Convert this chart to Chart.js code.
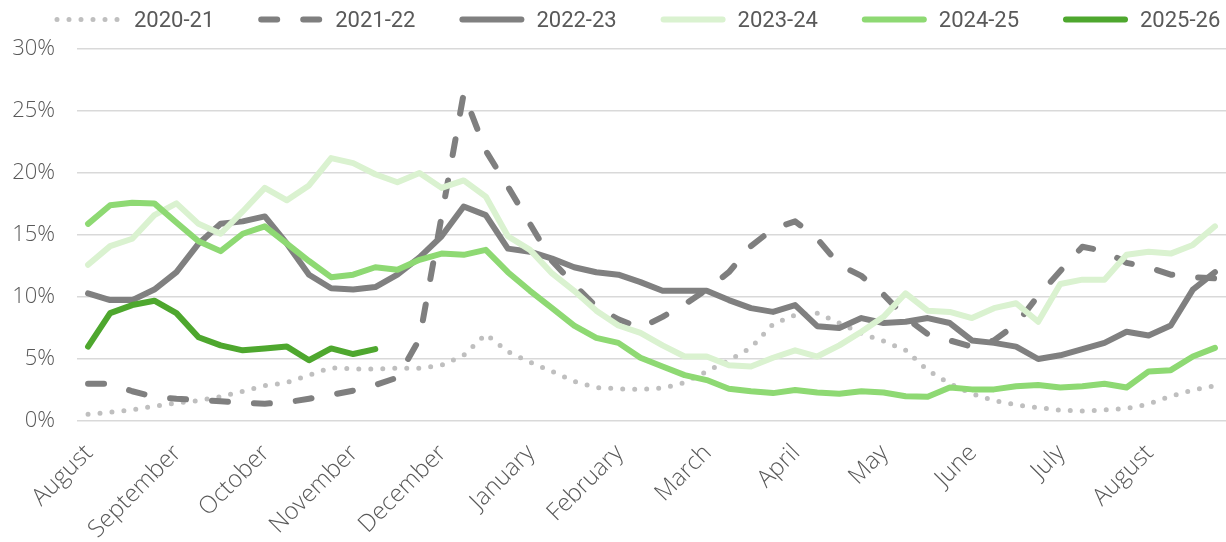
<!DOCTYPE html>
<html>
<head>
<meta charset="utf-8">
<script src="https://cdn.jsdelivr.net/npm/chart.js@4.4.1/dist/chart.umd.min.js"></script>
<style>
  html, body { margin: 0; padding: 0; background: #ffffff; }
  #wrap { width: 1226px; height: 542px; position: relative; }
</style>
</head>
<body>
<div id="wrap"><canvas id="chart"></canvas></div>
<script>
// Weekly categories (52 weeks, August to August); month name shown on the first week of each 4-week block
const categories = [
  'August','','','',
  'September','','','',
  'October','','','',
  'November','','','',
  'December','','','',
  'January','','','',
  'February','','','',
  'March','','','',
  'April','','','',
  'May','','','',
  'June','','','',
  'July','','','',
  'August','','',''
];

const seriesNames = ['2020-21', '2021-22', '2022-23', '2023-24', '2024-25', '2025-26'];

// Values in %
const s2020_21 = [0.55, 0.7, 0.9, 1.2, 1.45, 1.65, 1.95, 2.4, 2.85, 3.1, 3.7, 4.3, 4.2, 4.2, 4.25, 4.25,
  4.5, 5.3, 7.0, 5.6, 4.75, 4.0, 3.2, 2.7, 2.6, 2.55, 2.65, 3.1, 4.0, 4.9, 5.9, 7.8,
  8.55, 8.7, 7.9, 7.05, 6.45, 5.7, 4.1, 3.0, 2.2, 1.65, 1.3, 1.08, 0.87, 0.8, 0.9, 1.0,
  1.37, 2.0, 2.5, 2.85];
const s2021_22 = [3.0, 3.0, 2.4, 1.95, 1.8, 1.7, 1.6, 1.45, 1.4, 1.5, 1.8, 2.1, 2.45, 2.9, 3.5, 6.6,
  16.5, 26.4, 21.8, 18.9, 15.9, 12.9, 11.0, 9.2, 8.2, 7.5, 8.4, 9.4, 10.6, 12.0, 14.1, 15.5,
  16.1, 14.7, 12.6, 11.7, 10.2, 8.35, 7.0, 6.5, 6.0, 6.5, 7.8, 10.1, 12.1, 14.05, 13.7, 12.75,
  12.4, 11.8, 11.6, 11.5];
const s2022_23 = [10.3, 9.75, 9.75, 10.6, 12.0, 14.3, 15.9, 16.1, 16.5, 14.3, 11.8, 10.7, 10.6, 10.8, 11.8, 13.2,
  14.9, 17.3, 16.6, 13.9, 13.65, 13.1, 12.4, 12.0, 11.8, 11.2, 10.5, 10.5, 10.5, 9.75, 9.1, 8.8,
  9.35, 7.65, 7.5, 8.3, 7.9, 8.0, 8.3, 7.9, 6.5, 6.3, 6.0, 5.0, 5.3, 5.8, 6.3, 7.2,
  6.9, 7.7, 10.6, 12.0];
const s2023_24 = [12.6, 14.1, 14.7, 16.6, 17.55, 15.9, 15.1, 16.9, 18.8, 17.8, 19.0, 21.2, 20.8, 19.9, 19.25, 20.0,
  18.8, 19.4, 18.1, 14.9, 13.8, 11.9, 10.5, 8.9, 7.7, 7.1, 6.1, 5.2, 5.2, 4.5, 4.4, 5.1,
  5.7, 5.2, 6.1, 7.2, 8.4, 10.3, 8.9, 8.8, 8.3, 9.1, 9.5, 8.0, 11.05, 11.4, 11.4, 13.4,
  13.65, 13.5, 14.2, 15.7];
const s2024_25 = [15.9, 17.4, 17.6, 17.55, 16.0, 14.5, 13.7, 15.1, 15.7, 14.3, 12.9, 11.6, 11.8, 12.4, 12.2, 13.0,
  13.5, 13.4, 13.8, 12.0, 10.5, 9.1, 7.7, 6.7, 6.3, 5.1, 4.4, 3.7, 3.3, 2.6, 2.4, 2.25,
  2.5, 2.3, 2.2, 2.4, 2.3, 2.0, 1.95, 2.7, 2.55, 2.55, 2.8, 2.9, 2.7, 2.8, 3.0, 2.7,
  4.0, 4.1, 5.2, 5.9];
const s2025_26 = [6.0, 8.7, 9.35, 9.7, 8.7, 6.75, 6.1, 5.7, 5.85, 6.0, 4.9, 5.85, 5.4, 5.8];

const yTickValues = [0, 5, 10, 15, 20, 25, 30];

const seriesValues = [s2020_21, s2021_22, s2022_23, s2023_24, s2024_25, s2025_26];
const seriesStyle = [
  { color: '#BFBFBF', width: 5, dash: [0, 12], cap: 'round' },
  { color: '#7F7F7F', width: 6, dash: [16, 26], cap: 'round' },
  { color: '#808080', width: 6, dash: [], cap: 'round' },
  { color: '#DAF2D0', width: 6, dash: [], cap: 'round' },
  { color: '#8ED973', width: 6, dash: [], cap: 'round' },
  { color: '#4EA72E', width: 6, dash: [], cap: 'round' }
];

const datasets = seriesNames.map((name, i) => ({
  label: name,
  data: seriesValues[i],
  borderColor: seriesStyle[i].color,
  backgroundColor: seriesStyle[i].color,
  borderWidth: seriesStyle[i].width,
  borderDash: seriesStyle[i].dash,
  borderCapStyle: seriesStyle[i].cap,
  borderJoinStyle: 'round',
  pointRadius: 0,
  tension: 0,
  fill: false,
  order: seriesNames.length - 1 - i
}));

// Legend drawn in a single row with Excel-like spacing
const legendRow = {
  id: 'legendRow',
  afterDraw(chart) {
    const ctx = chart.ctx;
    const x0 = 57, pitch = 201.2, sampleW = 65, textDx = 77, lineY = 19.5, textY = 27;
    chart.data.datasets.forEach((ds, i) => {
      const x = x0 + i * pitch;
      ctx.save();
      ctx.strokeStyle = ds.borderColor;
      ctx.lineWidth = ds.borderWidth;
      ctx.lineCap = ds.borderCapStyle;
      ctx.setLineDash(ds.borderDash || []);
      const dotted = ds.borderDash && ds.borderDash.length && ds.borderDash[0] === 0;
      const inset = dotted ? 0 : ds.borderWidth / 2;
      ctx.beginPath();
      ctx.moveTo(x + inset, lineY);
      ctx.lineTo(x + sampleW - inset, lineY);
      ctx.stroke();
      ctx.restore();
      ctx.save();
      ctx.font = '22px Roboto';
      ctx.fillStyle = '#595959';
      ctx.textAlign = 'left';
      ctx.textBaseline = 'alphabetic';
      ctx.fillText(ds.label, x + textDx, textY);
      ctx.restore();
    });
  }
};

const yTickFont = { family: "'Open Sans'", size: 22, weight: 300 };
const xTickFont = { family: "'Open Sans'", size: 24, weight: 300 };

new Chart(document.getElementById('chart'), {
  type: 'line',
  data: { labels: categories, datasets },
  plugins: [legendRow],
  options: {
    animation: false,
    responsive: true,
    maintainAspectRatio: false,
    devicePixelRatio: 1,
    layout: { padding: { top: 49, left: 0, right: -2, bottom: 0 } },
    plugins: { legend: { display: false }, tooltip: { enabled: false } },
    scales: {
      x: {
        type: 'category',
        offset: true,
        grid: { display: false },
        border: { display: false },
        ticks: {
          autoSkip: false,
          maxRotation: 45,
          minRotation: 45,
          padding: 10,
          labelOffset: 1,
          color: '#595959',
          font: xTickFont
        },
        afterFit(scale) { scale.height = 121; scale.paddingLeft = 0; scale.paddingRight = 0; }
      },
      y: {
        min: yTickValues[0],
        max: yTickValues[yTickValues.length - 1],
        grid: { color: '#D9D9D9', lineWidth: 1.5, drawTicks: false },
        border: { display: false },
        ticks: {
          stepSize: 5,
          padding: 22,
          color: '#595959',
          font: yTickFont,
          callback: v => v + '%'
        },
        afterFit(scale) { scale.width = 77; }
      }
    }
  }
});
</script>
</body>
</html>
